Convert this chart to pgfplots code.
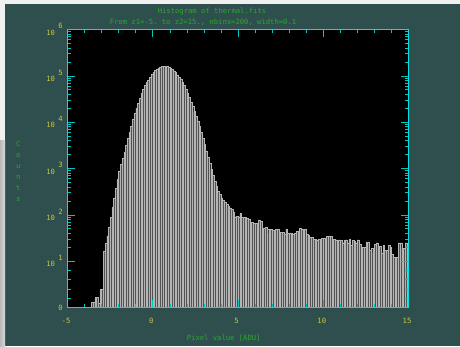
\documentclass[border=0pt]{standalone}
\usepackage{fontspec}
\usepackage{pgfplots}
\usepackage{pgfplotstable}
\pgfplotsset{compat=1.18}
\setmonofont{DejaVu Sans Mono}

\definecolor{slate}{RGB}{47,79,79}
\definecolor{framec}{RGB}{0,224,224}
\definecolor{tickc}{RGB}{0,200,200}
\definecolor{lbl}{RGB}{200,200,60}
\definecolor{ttl}{RGB}{40,170,40}
\definecolor{barfill}{RGB}{82,82,82}
\definecolor{barline}{RGB}{180,180,180}

\newcommand{\pix}{\ttfamily\fontsize{7.2bp}{8bp}\selectfont}
\newcommand{\dec}[1]{10\hspace{3.5bp}\raisebox{6.5bp}{#1}}

% histogram of pixel values: left bin edge, counts (200 bins of width 0.1)
\pgfplotstableread{
x y
-5.0 1
-4.9 1
-4.8 1
-4.7 1
-4.6 1
-4.5 1
-4.4 1
-4.3 1
-4.2 1
-4.1 1
-4.0 1
-3.9 1
-3.8 1
-3.7 1
-3.6 1.33
-3.5 1.33
-3.4 1.66
-3.3 1.66
-3.2 1.26
-3.1 2.45
-3.0 2.45
-2.9 16.6
-2.8 24
-2.7 35.5
-2.6 55
-2.5 89
-2.4 148
-2.3 234
-2.2 372
-2.1 575
-2.0 871
-1.9 1259
-1.8 1660
-1.7 2239
-1.6 3236
-1.5 4467
-1.4 6026
-1.3 8318
-1.2 11749
-1.1 15488
-1.0 19953
-0.9 25704
-0.8 33113
-0.7 41687
-0.6 51286
-0.5 61660
-0.4 72444
-0.3 81283
-0.2 93325
-0.1 107152
0.0 120226
0.1 131826
0.2 141254
0.3 147911
0.4 154882
0.5 158489
0.6 162181
0.7 162181
0.8 158489
0.9 154882
1.0 147911
1.1 138038
1.2 128825
1.3 117490
1.4 104713
1.5 93325
1.6 83176
1.7 72444
1.8 61660
1.9 51286
2.0 41687
2.1 33884
2.2 27542
2.3 21878
2.4 16982
2.5 13490
2.6 10471
2.7 8128
2.8 6026
2.9 4467
3.0 3311
3.1 2399
3.2 1778
3.3 1318
3.4 955
3.5 708
3.6 525
3.7 417
3.8 331
3.9 275
4.0 234
4.1 209
4.2 186
4.3 170
4.4 155
4.5 141
4.6 135
4.7 117
4.8 91
4.9 93
5.0 91
5.1 107
5.2 87
5.3 87
5.4 89
5.5 85
5.6 79
5.7 68
5.8 69
5.9 66
6.0 65
6.1 49
6.2 78
6.3 72
6.4 46
6.5 52
6.6 54
6.7 49
6.8 40
6.9 49
7.0 46
7.1 47
7.2 48
7.3 49
7.4 38
7.5 42
7.6 42
7.7 38
7.8 49
7.9 40
8.0 41
8.1 40
8.2 39
8.3 40
8.4 44
8.5 43
8.6 51
8.7 50
8.8 49
8.9 50
9.0 38
9.1 37
9.2 33
9.3 33
9.4 30
9.5 30
9.6 29
9.7 30
9.8 22
9.9 31
10.0 32
10.1 31
10.2 34
10.3 35
10.4 34
10.5 30
10.6 30
10.7 29
10.8 25
10.9 29
11.0 28
11.1 25
11.2 28
11.3 29
11.4 25
11.5 30
11.6 22
11.7 28
11.8 27
11.9 25
12.0 29
12.1 23
12.2 17
12.3 20
12.4 20
12.5 26
12.6 26
12.7 17
12.8 19
12.9 15.5
13.0 23
13.1 25
13.2 21
13.3 21
13.4 15
13.5 22
13.6 17
13.7 17
13.8 22
13.9 20
14.0 14
14.1 12
14.2 12
14.3 12
14.4 25
14.5 25
14.6 19
14.7 19
14.8 25
14.9 18
15.0 18
}\histo

\begin{document}
\begin{tikzpicture}[x=1bp,y=1bp]
% window background
\fill[slate] (0,0) rectangle (460,346);
\fill[gray!12] (0,342) rectangle (460,346);
\fill[gray!12] (0,206) rectangle (5,346);
\shade[left color=gray!55, right color=gray!30] (0,0) rectangle (5,206);
\path[use as bounding box] (0,0) rectangle (460,346);

\begin{axis}[
  at={(67.5bp,38.5bp)}, anchor=south west,
  width=341bp, height=278bp, scale only axis,
  xmin=-5, xmax=15, ymin=1, ymax=1000000, ymode=log,
  axis background/.style={fill=black},
  axis line style={framec, line width=0.8bp},
  every tick/.style={tickc, line width=0.6bp},
  major tick length=7.5bp, minor tick length=3.5bp,
  tick align=inside,
  xtick={-5,0,5,10,15}, xticklabels={-5,0,5,10,15},
  minor xtick={-4,-3,-2,-1,1,2,3,4,6,7,8,9,11,12,13,14},
  ytick={1,10,100,1000,10000,100000,1000000},
  yticklabels={0,\dec{1},\dec{2},\dec{3},\dec{4},\dec{5},\dec{6}},
  minor ytick={1.585,2.512,3.981,6.31,
    20,30,40,50,60,70,80,90,
    200,300,400,500,600,700,800,900,
    2000,3000,4000,5000,6000,7000,8000,9000,
    20000,30000,40000,50000,60000,70000,80000,90000,
    200000,300000,400000,500000,600000,700000,800000,900000},
  tick label style={font=\pix, text=lbl, inner sep=0pt},
  xticklabel style={anchor=north, yshift=-10.5bp, xshift=-1.5bp},
  yticklabel style={anchor=east, xshift=-4.5bp},
  axis on top,
]
\addplot[ybar interval, fill=barfill, draw=barline, line width=0.35bp] table[x=x, y=y] {\histo};
\end{axis}

% titles and axis labels
\node[font=\pix, text=ttl, anchor=base] at (212,332.7) {Histogram of thermal.fits};
\node[font=\pix, text=ttl, anchor=base] at (203,321.7) {From z1=-5. to z2=15., nbins=200, width=0.1};
\node[font=\pix, text=ttl, anchor=base] at (223.7,5.7) {Pixel value [ADU]};
\foreach \c [count=\i] in {C,o,u,n,t,s}
  \node[font=\pix, text=ttl, anchor=base] at (18.3,{199.4-10.9*(\i-1)}) {\c};
\end{tikzpicture}
\end{document}
